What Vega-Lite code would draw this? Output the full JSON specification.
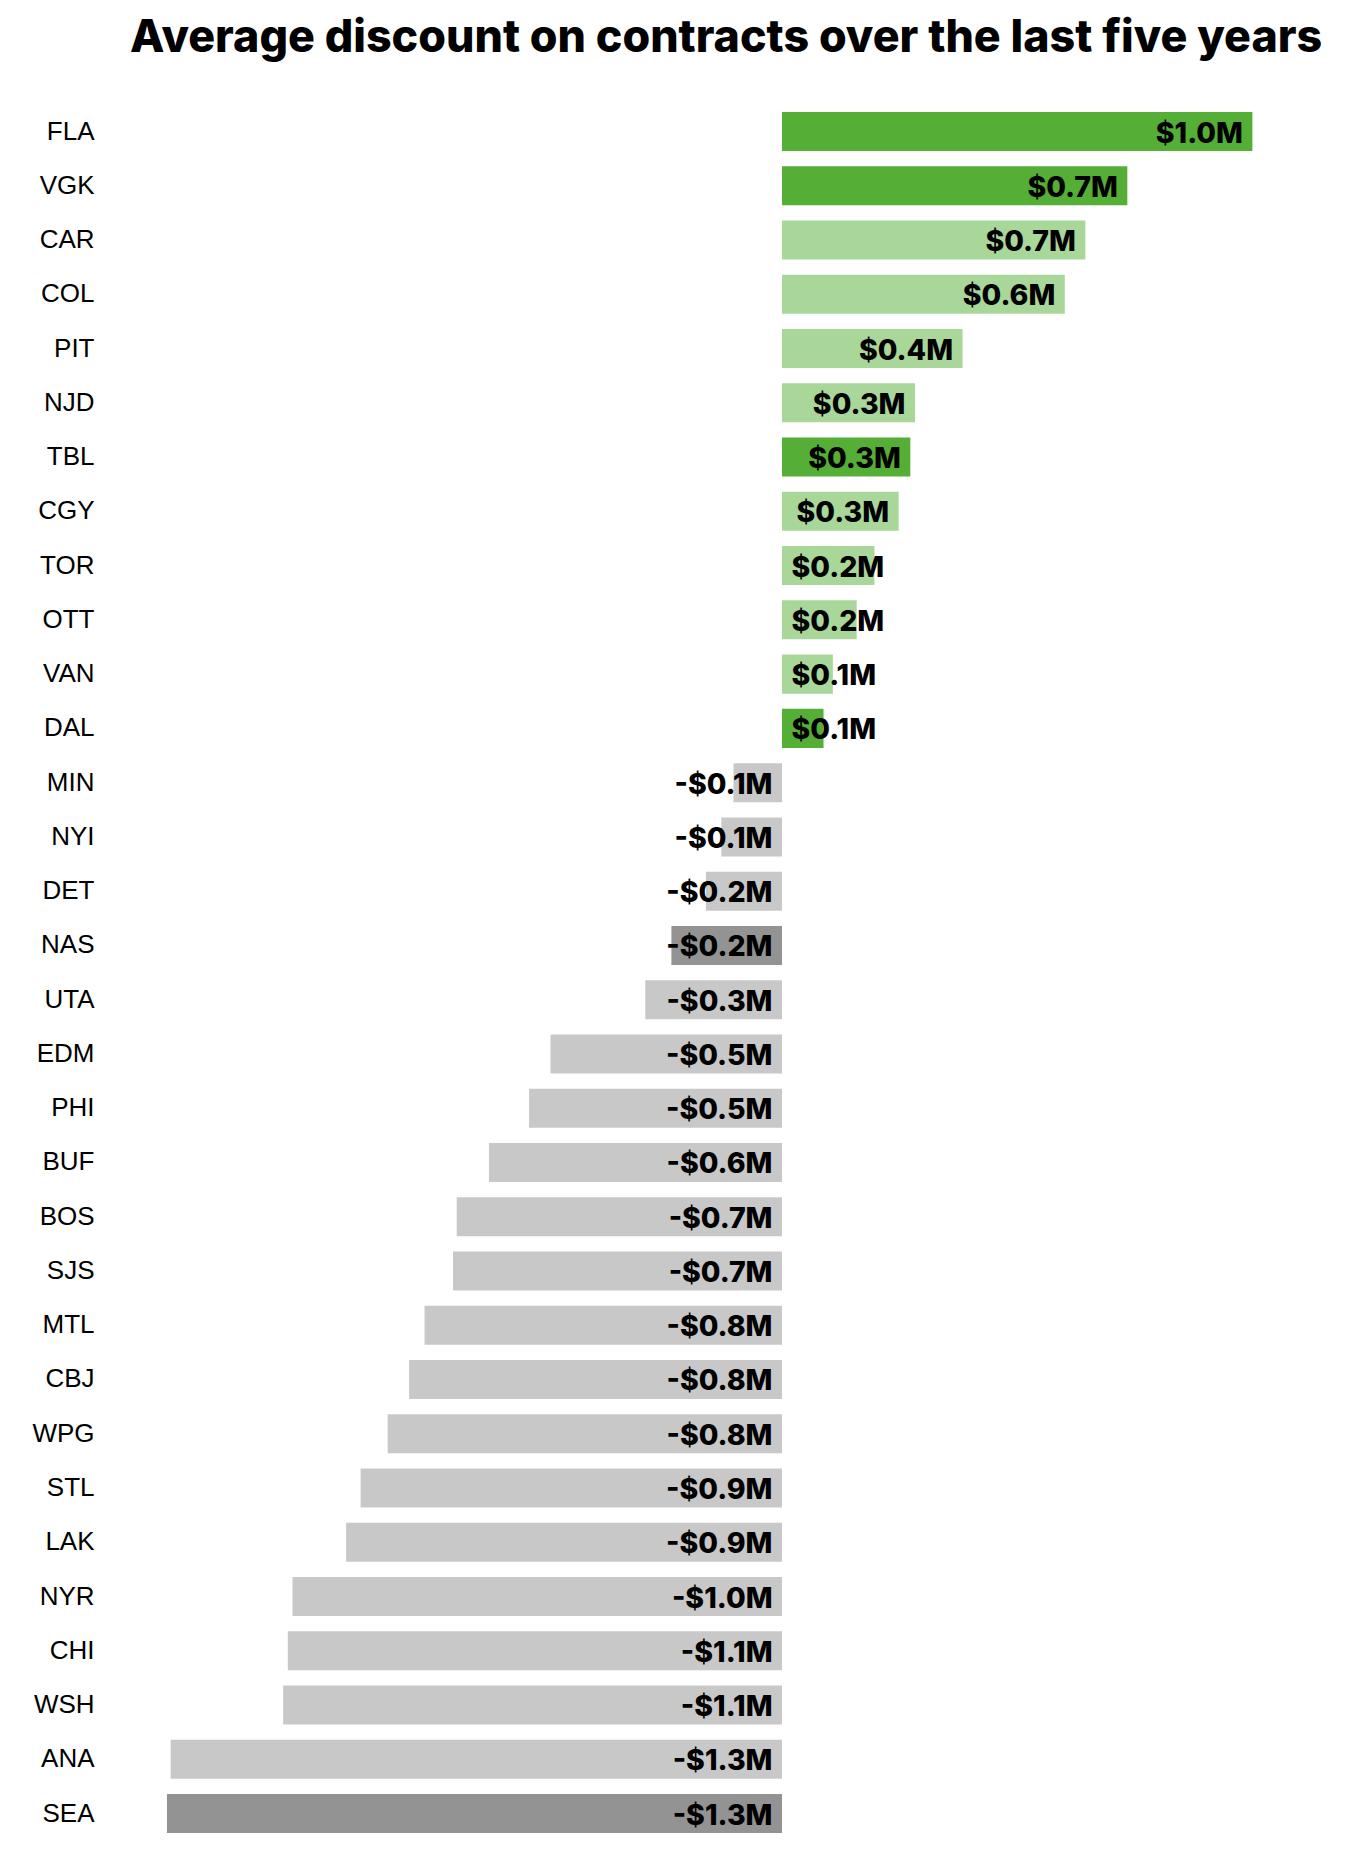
{
  "$schema": "https://vega.github.io/schema/vega-lite/v6.json",
  "autosize": "none",
  "padding": {"left": 166, "top": 104.4, "right": 12, "bottom": 17},
  "width": 1176,
  "height": 1736.3,
  "background": "white",
  "title": {
    "text": "Average discount on contracts over the last five years",
    "anchor": "start",
    "frame": "group",
    "dx": -36,
    "font": "Inter",
    "fontWeight": 800,
    "fontSize": 44.8,
    "color": "#000000",
    "offset": 43
  },
  "config": {"view": {"stroke": null}},
  "data": {
    "values": [
      {"team": "FLA", "value": 1.008, "label": "$1.0M", "group": "hi_pos"},
      {"team": "VGK", "value": 0.74, "label": "$0.7M", "group": "hi_pos"},
      {"team": "CAR", "value": 0.65, "label": "$0.7M", "group": "pos"},
      {"team": "COL", "value": 0.606, "label": "$0.6M", "group": "pos"},
      {"team": "PIT", "value": 0.387, "label": "$0.4M", "group": "pos"},
      {"team": "NJD", "value": 0.285, "label": "$0.3M", "group": "pos"},
      {"team": "TBL", "value": 0.275, "label": "$0.3M", "group": "hi_pos"},
      {"team": "CGY", "value": 0.25, "label": "$0.3M", "group": "pos"},
      {"team": "TOR", "value": 0.198, "label": "$0.2M", "group": "pos"},
      {"team": "OTT", "value": 0.16, "label": "$0.2M", "group": "pos"},
      {"team": "VAN", "value": 0.109, "label": "$0.1M", "group": "pos"},
      {"team": "DAL", "value": 0.089, "label": "$0.1M", "group": "hi_pos"},
      {"team": "MIN", "value": -0.104, "label": "-$0.1M", "group": "neg"},
      {"team": "NYI", "value": -0.13, "label": "-$0.1M", "group": "neg"},
      {"team": "DET", "value": -0.163, "label": "-$0.2M", "group": "neg"},
      {"team": "NAS", "value": -0.237, "label": "-$0.2M", "group": "hi_neg"},
      {"team": "UTA", "value": -0.293, "label": "-$0.3M", "group": "neg"},
      {"team": "EDM", "value": -0.496, "label": "-$0.5M", "group": "neg"},
      {"team": "PHI", "value": -0.542, "label": "-$0.5M", "group": "neg"},
      {"team": "BUF", "value": -0.628, "label": "-$0.6M", "group": "neg"},
      {"team": "BOS", "value": -0.697, "label": "-$0.7M", "group": "neg"},
      {"team": "SJS", "value": -0.705, "label": "-$0.7M", "group": "neg"},
      {"team": "MTL", "value": -0.766, "label": "-$0.8M", "group": "neg"},
      {"team": "CBJ", "value": -0.799, "label": "-$0.8M", "group": "neg"},
      {"team": "WPG", "value": -0.845, "label": "-$0.8M", "group": "neg"},
      {"team": "STL", "value": -0.903, "label": "-$0.9M", "group": "neg"},
      {"team": "LAK", "value": -0.934, "label": "-$0.9M", "group": "neg"},
      {"team": "NYR", "value": -1.049, "label": "-$1.0M", "group": "neg"},
      {"team": "CHI", "value": -1.059, "label": "-$1.1M", "group": "neg"},
      {"team": "WSH", "value": -1.069, "label": "-$1.1M", "group": "neg"},
      {"team": "ANA", "value": -1.31, "label": "-$1.3M", "group": "neg"},
      {"team": "SEA", "value": -1.318, "label": "-$1.3M", "group": "hi_neg"}
    ]
  },
  "encoding": {
    "y": {
      "field": "team",
      "type": "nominal",
      "sort": null,
      "title": null,
      "scale": {"paddingInner": 0.281, "paddingOuter": 0.1405},
      "axis": {
        "domain": false,
        "ticks": false,
        "grid": false,
        "labelPadding": 72,
        "labelFont": "Liberation Sans",
        "labelFontSize": 26,
        "labelColor": "#000000",
        "labelAlign": "right"
      }
    }
  },
  "layer": [
    {
      "mark": {"type": "bar"},
      "encoding": {
        "x": {
          "field": "value",
          "type": "quantitative",
          "scale": {"domain": [-1.32, 1.2], "nice": false, "zero": false},
          "axis": null
        },
        "x2": {"datum": 0},
        "color": {
          "field": "group",
          "type": "nominal",
          "scale": {
            "domain": ["hi_pos", "pos", "neg", "hi_neg"],
            "range": ["#55AE35", "#A9D79A", "#C8C8C8", "#939393"]
          },
          "legend": null
        }
      }
    },
    {
      "transform": [{"filter": "datum.value >= 0.22"}],
      "mark": {"type": "text", "align": "right", "baseline": "middle", "dx": -9.5, "dy": 2, "font": "Inter", "fontWeight": 800, "fontSize": 28.5, "color": "#000000"},
      "encoding": {
        "x": {"field": "value", "type": "quantitative"},
        "text": {"field": "label"}
      }
    },
    {
      "transform": [{"filter": "datum.value > 0 && datum.value < 0.22"}],
      "mark": {"type": "text", "align": "left", "baseline": "middle", "dx": 9.5, "dy": 2, "font": "Inter", "fontWeight": 800, "fontSize": 28.5, "color": "#000000"},
      "encoding": {
        "x": {"datum": 0},
        "text": {"field": "label"}
      }
    },
    {
      "transform": [{"filter": "datum.value < 0"}],
      "mark": {"type": "text", "align": "right", "baseline": "middle", "dx": -9.5, "dy": 2, "font": "Inter", "fontWeight": 800, "fontSize": 28.5, "color": "#000000"},
      "encoding": {
        "x": {"datum": 0},
        "text": {"field": "label"}
      }
    }
  ]
}
